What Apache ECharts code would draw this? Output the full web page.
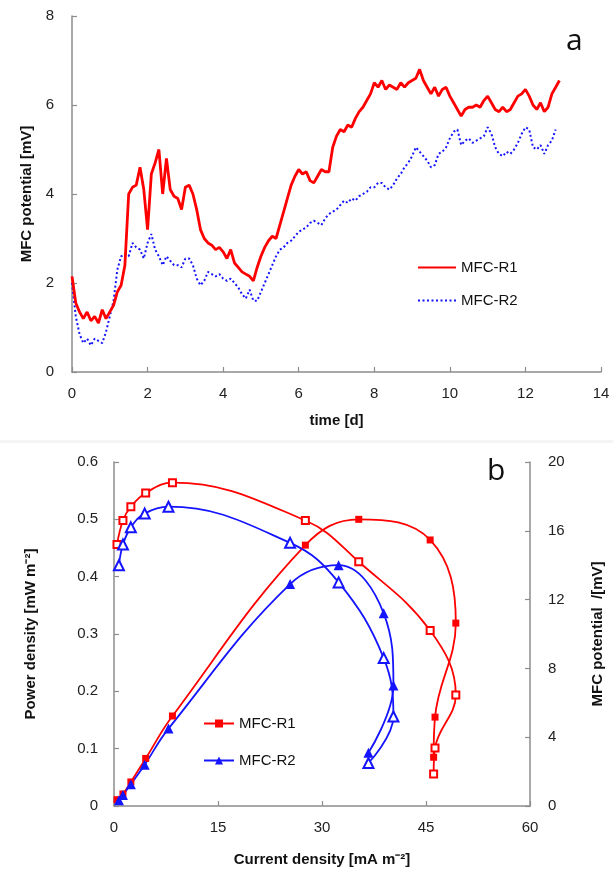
<!DOCTYPE html>
<html>
<head>
<meta charset="utf-8">
<script src="https://cdn.jsdelivr.net/npm/echarts@6/dist/echarts.min.js"></script>
<style>
  html, body { margin: 0; padding: 0; background: #fff; }
  #chartA { position: absolute; left: 0; top: 0; width: 613px; height: 440px; }
  #chartB { position: absolute; left: 0; top: 440px; width: 613px; height: 438px; border-top: 3px solid #f4f4f4; box-sizing: border-box; }
</style>
</head>
<body>
<div id="chartA"></div>
<div id="chartB"></div>
<script>
// ---- panel a: potential over time ----
const days = [
  0.0,0.1,0.2,0.3,0.4,0.5,0.6,0.7,0.8,0.9,
  1.0,1.1,1.2,1.3,1.4,1.5,1.6,1.7,1.8,1.9,
  2.0,2.1,2.2,2.3,2.4,2.5,2.6,2.7,2.8,2.9,
  3.0,3.1,3.2,3.3,3.4,3.5,3.6,3.7,3.8,3.9,
  4.0,4.1,4.2,4.3,4.4,4.5,4.6,4.7,4.8,4.9,
  5.0,5.1,5.2,5.3,5.4,5.5,5.6,5.7,5.8,5.9,
  6.0,6.1,6.2,6.3,6.4,6.5,6.6,6.7,6.8,6.9,
  7.0,7.1,7.2,7.3,7.4,7.5,7.6,7.7,7.8,7.9,
  8.0,8.1,8.2,8.3,8.4,8.5,8.6,8.7,8.8,8.9,
  9.0,9.1,9.2,9.3,9.4,9.5,9.6,9.7,9.8,9.9,
  10.0,10.1,10.2,10.3,10.4,10.5,10.6,10.7,10.8,10.9,
  11.0,11.1,11.2,11.3,11.4,11.5,11.6,11.7,11.8,11.9,
  12.0,12.1,12.2,12.3,12.4,12.5,12.6,12.7,12.8,12.9
];
const potR1 = [
  2.15,1.55,1.35,1.2,1.35,1.15,1.25,1.1,1.4,1.2,
  1.35,1.5,1.8,1.95,2.4,4.0,4.15,4.2,4.6,4.1,
  3.2,4.45,4.7,5.0,4.0,4.8,4.1,3.95,3.9,3.65,
  4.15,4.2,4.0,3.65,3.2,3.0,2.9,2.85,2.75,2.8,
  2.7,2.55,2.75,2.45,2.35,2.25,2.2,2.15,2.05,2.35,
  2.6,2.8,2.95,3.05,3.0,3.3,3.6,3.9,4.2,4.4,
  4.55,4.45,4.5,4.3,4.25,4.4,4.55,4.5,4.5,5.05,
  5.3,5.45,5.4,5.55,5.5,5.7,5.85,5.95,6.1,6.25,
  6.5,6.4,6.55,6.35,6.45,6.4,6.35,6.5,6.4,6.5,
  6.55,6.6,6.8,6.55,6.4,6.25,6.4,6.2,6.35,6.4,
  6.2,6.05,5.9,5.75,5.9,5.95,5.95,6.0,5.95,6.1,
  6.2,6.05,5.9,5.85,5.95,5.85,5.9,6.05,6.2,6.25,
  6.35,6.2,6.0,5.9,6.05,5.85,5.95,6.25,6.4,6.55
];
const potR2 = [
  2.0,1.25,0.85,0.65,0.75,0.6,0.75,0.7,0.65,0.9,
  1.25,1.6,2.3,2.6,2.65,2.6,2.9,2.8,2.75,2.55,
  2.9,3.1,2.75,2.6,2.4,2.6,2.5,2.4,2.4,2.35,
  2.55,2.55,2.4,2.1,1.95,2.05,2.25,2.2,2.15,2.2,
  2.1,2.05,2.1,2.0,1.9,1.75,1.65,1.85,1.6,1.6,
  1.8,2.0,2.2,2.4,2.6,2.75,2.8,2.9,2.95,3.05,
  3.15,3.2,3.25,3.35,3.4,3.35,3.3,3.45,3.55,3.6,
  3.65,3.75,3.85,3.8,3.9,3.85,3.95,4.0,4.05,4.15,
  4.15,4.25,4.25,4.15,4.1,4.2,4.35,4.45,4.6,4.7,
  4.85,5.05,4.95,4.85,4.75,4.6,4.65,4.9,4.95,5.05,
  5.25,5.4,5.45,5.1,5.2,5.25,5.15,5.2,5.25,5.3,
  5.5,5.35,5.05,4.9,4.85,4.95,4.9,5.0,5.15,5.35,
  5.5,5.45,5.05,5.0,5.1,4.9,5.1,5.2,5.45
];

// ---- panel b: polarisation / power curves ----
const curR1 = [0.43, 1.29, 2.43, 4.57, 8.43, 27.6, 35.3, 45.6, 49.3, 46.3, 46.1];
const powR1 = [0.011, 0.021, 0.042, 0.083, 0.157, 0.455, 0.50, 0.464, 0.319, 0.155, 0.085];
const volR1 = [15.2, 16.6, 17.4, 18.2, 18.8, 16.6, 14.2, 10.2, 6.45, 3.37, 1.86];
const curR2 = [0.71, 1.29, 2.43, 4.43, 7.86, 25.4, 32.4, 38.9, 40.3, 36.7];
const powR2 = [0.01, 0.019, 0.038, 0.072, 0.135, 0.387, 0.42, 0.336, 0.21, 0.093];
const volR2 = [14.0, 15.2, 16.2, 17.0, 17.4, 15.3, 13.0, 8.6, 5.2, 2.5];

const RED = "#ff0000";
const BLUE = "#1414ff";
const FONT = "Liberation Sans";

function pairs(xs, ys) {
  return ys.map((y, i) => [xs[i], y]);
}

function axisBase(extra) {
  return Object.assign({
    type: "value",
    axisLine: { show: true, lineStyle: { color: "#8c8c8c", width: 1.5 } },
    axisTick: { show: true, inside: true, length: 5, lineStyle: { color: "#8c8c8c", width: 1.2 } },
    splitLine: { show: false },
    axisLabel: { color: "#222", fontSize: 15, fontFamily: FONT },
    nameLocation: "middle",
    nameTextStyle: { color: "#111", fontSize: 15, fontWeight: "bold", fontFamily: FONT },
  }, extra);
}

let chartA = echarts.init(document.getElementById("chartA"));
chartA.setOption({
  animation: false,
  grid: { left: 72, top: 16, width: 529, height: 356 },
  xAxis: axisBase({
    min: 0, max: 14, interval: 2,
    name: "time [d]", nameGap: 41,
    axisLabel: { color: "#222", fontSize: 15, fontFamily: FONT, margin: 14 },
  }),
  yAxis: axisBase({
    min: 0, max: 8, interval: 2,
    name: "MFC potential [mV]", nameGap: 38, nameRotate: 90,
    axisLabel: { color: "#222", fontSize: 15, fontFamily: FONT, margin: 18 },
  }),
  legend: {
    orient: "vertical",
    left: 412, top: 255,
    itemWidth: 38, itemHeight: 14, itemGap: 18,
    itemStyle: { opacity: 0 },
    textStyle: { color: "#111", fontSize: 15, fontFamily: FONT },
    data: ["MFC-R1", "MFC-R2"],
  },
  graphic: [
    { type: "text", left: 566, top: 26, style: { text: "a", fontSize: 30, fontFamily: "Open Sans", fill: "#111" } },
  ],
  series: [
    {
      name: "MFC-R2", type: "line", symbol: "none",
      data: pairs(days, potR2),
      lineStyle: { color: BLUE, width: 2, type: [2, 2.5] },
      itemStyle: { color: BLUE },
    },
    {
      name: "MFC-R1", type: "line", symbol: "none",
      data: pairs(days, potR1),
      lineStyle: { color: RED, width: 2.8 },
      itemStyle: { color: RED },
    },
  ],
});

let chartB = echarts.init(document.getElementById("chartB"));
chartB.setOption({
  animation: false,
  grid: { left: 114, top: 19, width: 420, height: 344 },
  xAxis: axisBase({
    min: 0, max: 60, interval: 15,
    name: "Current density [mA m\u207B\u00B2]", nameGap: 46,
    axisLabel: { color: "#222", fontSize: 15, fontFamily: FONT, margin: 14 },
  }),
  yAxis: [
    axisBase({
      min: 0, max: 0.6, interval: 0.1, position: "left",
      name: "Power density [mW m\u207B\u00B2]", nameGap: 76, nameRotate: 90,
      axisLabel: { color: "#222", fontSize: 15, fontFamily: FONT, margin: 16,
        formatter: v => String(+v.toFixed(1)) },
    }),
    axisBase({
      min: 0, max: 20, interval: 4, position: "right",
      name: "MFC potential  /[mV]", nameGap: 60, nameRotate: 90,
      axisLabel: { color: "#222", fontSize: 15, fontFamily: FONT, margin: 18 },
    }),
  ],
  legend: {
    orient: "vertical",
    left: 198, top: 268,
    itemWidth: 30, itemHeight: 10, itemGap: 22,
    textStyle: { color: "#111", fontSize: 15, fontFamily: FONT },
    data: ["MFC-R1", "MFC-R2"],
  },
  graphic: [
    { type: "text", left: 487, top: 13, style: { text: "b", fontSize: 30, fontFamily: "Open Sans", fill: "#111" } },
  ],
  series: [
    {
      name: "MFC-R1", type: "line", smooth: 0.4,
      data: pairs(curR1, powR1),
      symbol: "rect", symbolSize: 7,
      lineStyle: { color: RED, width: 1.8 },
      itemStyle: { color: RED },
    },
    {
      name: "MFC-R1 potential", type: "line", smooth: 0.4, yAxisIndex: 1,
      data: pairs(curR1, volR1),
      symbol: "emptyRect", symbolSize: 7,
      lineStyle: { color: RED, width: 1.8 },
      itemStyle: { color: RED, borderColor: RED, borderWidth: 1 },
    },
    {
      name: "MFC-R2", type: "line", smooth: 0.4,
      data: pairs(curR2, powR2),
      symbol: "triangle", symbolSize: 10,
      lineStyle: { color: BLUE, width: 1.8 },
      itemStyle: { color: BLUE },
    },
    {
      name: "MFC-R2 potential", type: "line", smooth: 0.4, yAxisIndex: 1,
      data: pairs(curR2, volR2),
      symbol: "emptyTriangle", symbolSize: 10,
      lineStyle: { color: BLUE, width: 1.8 },
      itemStyle: { color: BLUE, borderColor: BLUE, borderWidth: 1 },
    },
  ],
});

window.onresize = function () {
  chartA.resize();
  chartB.resize();
};
</script>
</body>
</html>
